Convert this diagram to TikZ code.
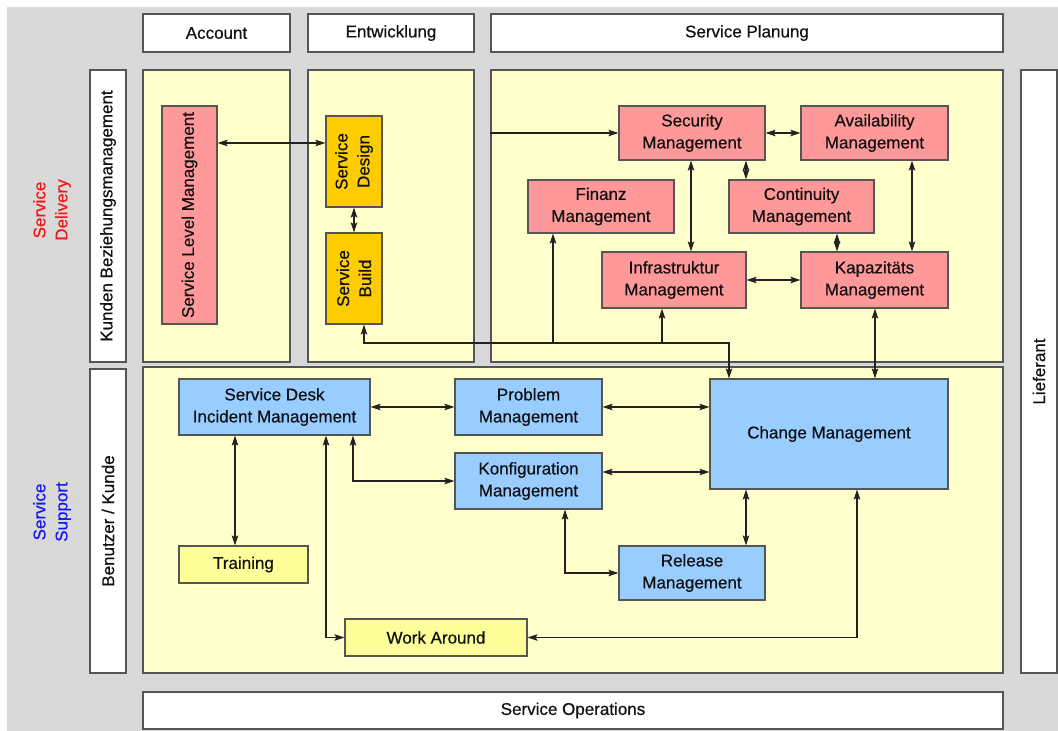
\documentclass[tikz,border=0pt]{standalone}
\usepackage{fontspec}
\setmainfont{Liberation Sans}[FakeBold=0.5]
\usetikzlibrary{arrows.meta}

\definecolor{bggray}{HTML}{D9D9D9}
\definecolor{panelyellow}{HTML}{FFFFCC}
\definecolor{pinkfill}{HTML}{FF9999}
\definecolor{orangefill}{HTML}{FFCC00}
\definecolor{bluefill}{HTML}{99CCFF}
\definecolor{lightyellow}{HTML}{FFFF99}
\definecolor{edgegray}{HTML}{555555}
\definecolor{linegray}{HTML}{222222}
\definecolor{textdark}{HTML}{111111}
\definecolor{delivred}{HTML}{F01818}
\definecolor{suppblue}{HTML}{1818F0}

\tikzset{
  lbl/.style={font=\fontsize{17}{22}\selectfont, text=textdark, align=center, inner sep=0pt},
  frame/.style={lbl, draw=edgegray, line width=1.4pt, rectangle},
  whitebar/.style={frame, fill=white},
  panel/.style={frame, fill=panelyellow},
  unit/.style={lbl, draw=edgegray, line width=1.2pt, rectangle},
  pinkbox/.style={unit, fill=pinkfill},
  orangebox/.style={unit, fill=orangefill},
  bluebox/.style={unit, fill=bluefill},
  yellowbox/.style={unit, fill=lightyellow},
  link/.style={draw=linegray, line width=1.1pt},
  head/.style={Stealth[length=10pt,width=6.5pt,inset=2pt]},
  tip/.style={link, -{Stealth[length=10pt,width=6.5pt,inset=2pt]}},
  both/.style={link, {Stealth[length=10pt,width=6.5pt,inset=2pt]}-{Stealth[length=10pt,width=6.5pt,inset=2pt]}},
}

\begin{document}
\begin{tikzpicture}[x=1pt, y=-1pt]
\useasboundingbox (0,0) rectangle (1058,731);
\fill[white] (0,0) rectangle (1058,731);
\fill[bggray] (7,7) rectangle (1058,731);

% column headers
\node[whitebar, minimum width=147, minimum height=38] (hacc) at (216.5,33) {Account};
\node[whitebar, minimum width=166, minimum height=38] (hent) at (391,33) {Entwicklung};
\node[whitebar, minimum width=512, minimum height=38] (hplan) at (747,33) {Service Planung};

% row headers
\node[whitebar, minimum width=36, minimum height=292] (kbm) at (108,216) {};
\node[lbl, rotate=90] at (kbm) {Kunden Beziehungsmanagement};
\node[whitebar, minimum width=36, minimum height=304] (bku) at (108,521) {};
\node[lbl, rotate=90] at (bku) {Benutzer / Kunde};
\node[whitebar, minimum width=36, minimum height=603] (lief) at (1039,371.5) {};
\node[lbl, rotate=90] at (lief) {Lieferant};
\node[whitebar, minimum width=860, minimum height=37] (sops) at (573,710.5) {Service Operations};

% area titles
\node[lbl, rotate=90, text=delivred] (tdel) at (52,210) {Service\\Delivery};
\node[lbl, rotate=90, text=suppblue] (tsup) at (52,512) {Service\\Support};

% panels
\node[panel, minimum width=147, minimum height=292] (pacc) at (216.5,216) {};
\node[panel, minimum width=166, minimum height=292] (pent) at (391,216) {};
\node[panel, minimum width=512, minimum height=292] (pplan) at (747,216) {};
\node[panel, minimum width=860, minimum height=306] (psup) at (573,520) {};

% service delivery processes
\node[pinkbox, minimum width=55, minimum height=218] (slm) at (189.5,215) {};
\node[lbl, rotate=90] at (slm) {Service Level Management};
\node[orangebox, minimum width=56, minimum height=91] (sdes) at (354,161.5) {};
\node[lbl, rotate=90] at (sdes) {Service\\Design};
\node[orangebox, minimum width=56, minimum height=91] (sbld) at (354,278.5) {};
\node[lbl, rotate=90] at (sbld) {Service\\Build};

\node[pinkbox, minimum width=146, minimum height=54] (sec) at (692,133) {Security\\Management};
\node[pinkbox, minimum width=147, minimum height=54] (avail) at (874.5,133) {Availability\\Management};
\node[pinkbox, minimum width=146, minimum height=53] (fin) at (601,206.5) {Finanz\\Management};
\node[pinkbox, minimum width=145, minimum height=53] (cont) at (801.5,206.5) {Continuity\\Management};
\node[pinkbox, minimum width=144, minimum height=56] (infra) at (674,280) {Infrastruktur\\Management};
\node[pinkbox, minimum width=147, minimum height=56] (kap) at (874.5,280) {Kapazitäts\\Management};

% service support processes
\node[bluebox, minimum width=191, minimum height=56] (sdesk) at (274.5,407) {Service Desk\\Incident Management};
\node[bluebox, minimum width=147, minimum height=56] (prob) at (528.5,407) {Problem\\Management};
\node[bluebox, minimum width=147, minimum height=56] (konf) at (528.5,481) {Konfiguration\\Management};
\node[bluebox, minimum width=238, minimum height=110] (chg) at (829,434) {Change Management};
\node[bluebox, minimum width=146, minimum height=54] (rel) at (692,573) {Release\\Management};
\node[yellowbox, minimum width=129, minimum height=37] (train) at (243.5,564.5) {Training};
\node[yellowbox, minimum width=182, minimum height=37] (wa) at (436,637.5) {Work Around};

% routing guides
\coordinate (r143) at (0,143);
\coordinate (r343) at (0,343);
\coordinate (r472) at (0,472);
\coordinate (c235) at (235,0);
\coordinate (c326) at (326,0);
\coordinate (c353) at (353,0);
\coordinate (c364) at (364,0);
\coordinate (c553) at (553,0);
\coordinate (c565) at (565,0);
\coordinate (c662) at (662,0);
\coordinate (c691) at (691,0);
\coordinate (c729) at (729,0);
\coordinate (c746) at (746,0);
\coordinate (c837) at (837,0);
\coordinate (c857) at (857,0);
\coordinate (c875) at (875,0);
\coordinate (c912) at (912,0);
\coordinate (planin) at (pplan.west |- sec.west);

% delivery connectors
\draw[both] (slm.east |- r143) -- (sdes.west |- r143);
\draw[both] (sdes.south) -- (sbld.north);
\draw[tip] (planin) -- (sec.west);
\draw[both] (sec.east) -- (avail.west);
\draw[both] (sec.south -| c691) -- (infra.north -| c691);
\draw[both] (sec.south -| c746) -- (cont.north -| c746);
\draw[both] (cont.south -| c837) -- (kap.north -| c837);
\draw[both] (avail.south -| c912) -- (kap.north -| c912);
\draw[both] (infra.east) -- (kap.west);
\draw[both] (sbld.south -| c364) -- (c364 |- r343) -- (c729 |- r343) -- (chg.north -| c729);
\draw[tip] (c553 |- r343) -- (fin.south -| c553);
\draw[tip] (c662 |- r343) -- (infra.south -| c662);
\draw[both] (kap.south -| c875) -- (chg.north -| c875);

% support connectors
\draw[both] (sdesk.east) -- (prob.west);
\draw[both] (prob.east) -- (chg.west |- prob.east);
\draw[both] (konf.east |- r472) -- (chg.west |- r472);
\draw[both] (sdesk.south -| c235) -- (train.north -| c235);
\draw[both] (sdesk.south -| c326) |- (wa.west);
\draw[both] (sdesk.south -| c353) |- (konf.west);
\draw[both] (konf.south -| c565) |- (rel.west);
\draw[both] (chg.south -| c746) -- (rel.north -| c746);
\draw[both] (chg.south -| c857) |- (wa.east);
\end{tikzpicture}
\end{document}
